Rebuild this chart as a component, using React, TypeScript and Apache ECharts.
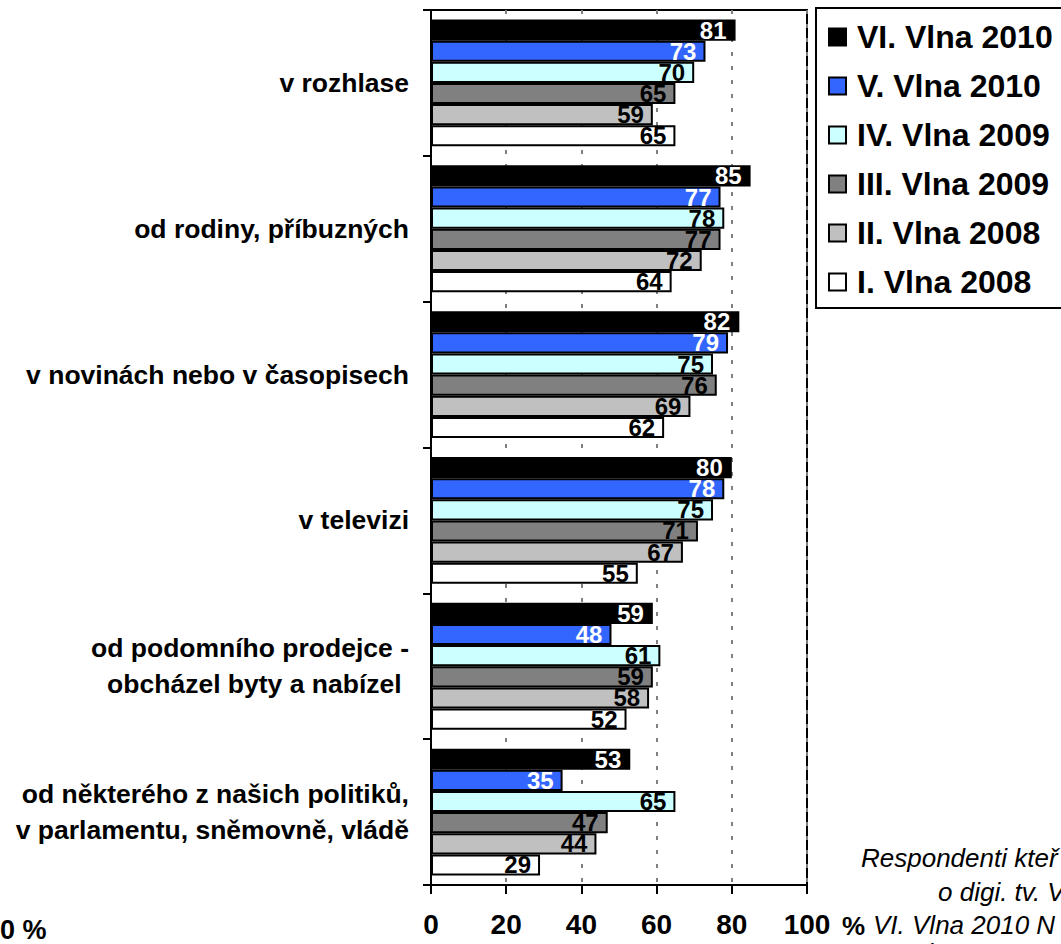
import React, { useEffect, useRef } from "react";
import * as echarts from "echarts";

const categories = [
  "v rozhlase",
  "od rodiny, příbuzných",
  "v novinách nebo v časopisech",
  "v televizi",
  "od podomního prodejce -\nobcházel byty a nabízel ",
  "od některého z našich politiků,\nv parlamentu, sněmovně, vládě",
];

const seriesNames = [
  "VI. Vlna 2010",
  "V. Vlna 2010",
  "IV. Vlna 2009",
  "III. Vlna 2009",
  "II. Vlna 2008",
  "I. Vlna 2008",
];

const wave6 = [81, 85, 82, 80, 59, 53];
const wave5 = [73, 77, 79, 78, 48, 35];
const wave4 = [70, 78, 75, 75, 61, 65];
const wave3 = [65, 77, 76, 71, 59, 47];
const wave2 = [59, 72, 69, 67, 58, 44];
const wave1 = [65, 64, 62, 55, 52, 29];

const seriesValues = [wave6, wave5, wave4, wave3, wave2, wave1];
const seriesColors = ["#000000", "#3366FF", "#CCFFFF", "#808080", "#C0C0C0", "#FFFFFF"];
const labelColors = ["#FFFFFF", "#FFFFFF", "#000000", "#000000", "#000000", "#000000"];

const xTicks = [0, 20, 40, 60, 80, 100];

const noteLines = [
  { text: "Respondenti kteř", x: 861, y: 858 },
  { text: "o digi. tv. V", x: 938, y: 892 },
  { text: "VI. Vlna 2010 N", x: 873, y: 925 },
  { text: "V. Vlna 2010 N", x: 880, y: 953 },
];

const FONT = "'Liberation Sans', Arial, sans-serif";

export default function App() {
  const ref = useRef<HTMLDivElement>(null);

  useEffect(() => {
    if (!ref.current) return;
    const chart = echarts.init(ref.current, null, { renderer: "svg" });

    const series = seriesNames.map((name, i) => ({
      name,
      type: "bar",
      data: seriesValues[i],
      barGap: "0%",
      barCategoryGap: "13%",
      itemStyle: {
        color: seriesColors[i],
        borderColor: "#000000",
        borderWidth: 2,
      },
      label: {
        show: true,
        position: "insideRight",
        distance: 9,
        color: labelColors[i],
        fontFamily: FONT,
        fontWeight: "bold",
        fontSize: 24,
        lineHeight: 20,
      },
    }));

    chart.setOption({
      animation: false,
      backgroundColor: "#FFFFFF",
      grid: {
        left: 431,
        right: 254,
        top: 10,
        bottom: 59,
        containLabel: false,
        show: true,
        borderColor: "#000000",
        borderWidth: 2,
        backgroundColor: "transparent",
      },
      legend: {
        show: true,
        orient: "vertical",
        left: 828,
        top: 21,
        padding: 0,
        itemWidth: 17,
        itemHeight: 17,
        itemGap: 17,
        icon: "rect",
        data: seriesNames,
        textStyle: {
          fontFamily: FONT,
          fontWeight: "bold",
          fontSize: 32,
          lineHeight: 32,
          color: "#000000",
          padding: [0, 0, 0, 6],
        },
      },
      xAxis: {
        type: "value",
        min: xTicks[0],
        max: xTicks[xTicks.length - 1],
        interval: 20,
        axisLine: { show: true, lineStyle: { color: "#000000", width: 2 } },
        axisTick: { show: true, length: 9, lineStyle: { color: "#000000", width: 2 } },
        splitLine: {
          show: true,
          lineStyle: { color: "#808080", width: 2, type: [4, 10] },
        },
        axisLabel: {
          color: "#000000",
          fontFamily: FONT,
          fontWeight: "bold",
          fontSize: 28,
          margin: 25,
        },
      },
      yAxis: {
        type: "category",
        inverse: true,
        data: categories,
        axisLine: { show: true, lineStyle: { color: "#000000", width: 2 } },
        axisTick: { show: true, length: 8, lineStyle: { color: "#000000", width: 2 } },
        axisLabel: {
          color: "#000000",
          fontFamily: FONT,
          fontWeight: "bold",
          fontSize: 26.5,
          lineHeight: 36,
          margin: 22,
          align: "right",
        },
        splitLine: { show: false },
      },
      graphic: [
        {
          type: "rect",
          shape: { x: 816, y: 8, width: 300, height: 300 },
          style: { fill: "none", stroke: "#000000", lineWidth: 2 },
          silent: true,
        },
        {
          type: "text",
          x: 842,
          y: 926,
          style: {
            text: "%",
            fontFamily: FONT,
            fontWeight: "bold",
            fontSize: 26,
            fill: "#000000",
            verticalAlign: "middle",
          },
        },
        {
          type: "text",
          x: 0,
          y: 930,
          style: {
            text: "0 %",
            fontFamily: FONT,
            fontWeight: "bold",
            fontSize: 27,
            fill: "#000000",
            verticalAlign: "middle",
          },
        },
        ...noteLines.map((l) => ({
          type: "text",
          x: l.x,
          y: l.y,
          style: {
            text: l.text,
            fontFamily: FONT,
            fontStyle: "italic",
            fontSize: 26,
            fill: "#000000",
            verticalAlign: "middle",
          },
        })),
      ],
      series,
    });

    return () => chart.dispose();
  }, []);

  return (
    <div
      ref={ref}
      style={{ position: "fixed", left: 0, top: 0, width: 1061, height: 944, background: "#fff" }}
    />
  );
}
